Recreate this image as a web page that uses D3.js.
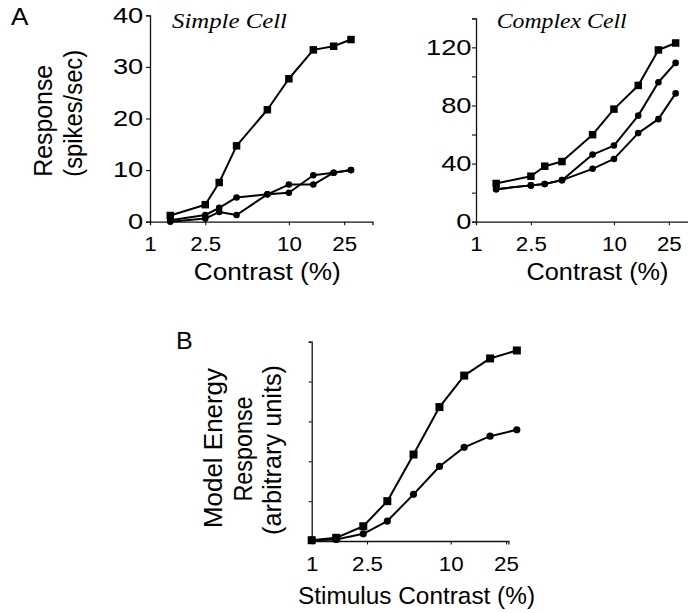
<!DOCTYPE html>
<html><head><meta charset="utf-8">
<script src="https://cdn.jsdelivr.net/npm/d3@7"></script>
<style>
html,body{margin:0;padding:0;background:#fff;}
svg{display:block;}
text{font-family:Arial,"Liberation Sans",Helvetica,sans-serif;fill:#000;}
</style></head>
<body>
<svg id="chart" width="688" height="613"></svg>
<script>
// ---------- data ----------
const contrastA = [1.4, 2.5, 3.15, 4.2, 7, 10, 15, 21, 28];
const simpleSquare  = [1.2, 3.3, 7.6, 14.7, 21.7, 27.7, 33.3, 34.0, 35.3];
const simpleCircle1 = [0.3, 1.3, 2.7, 4.7, 5.3, 5.6, 9.0, 9.5, 10.0];
const simpleCircle2 = [0.0, 0.6, 1.9, 1.3, 5.3, 7.2, 7.2, 9.5, 10.0];
const complexSquare  = [26.3, 31.3, 38.2, 41.4, 59.9, 77.5, 93.8, 118.2, 123];
const complexCircle1 = [22.4, 25, 25.9, 28.6, 46.2, 52.4, 73, 96, 109.3];
const complexCircle2 = [22.4, 25, 25.9, 28.6, 36.4, 43.2, 61, 70.6, 88.3];
const contrastB = [1, 1.5, 2.35, 3.5, 5.4, 8.3, 12.5, 19.2, 29.9];
const modelSquare = [0.02, 0.08, 0.37, 1.0, 2.17, 3.36, 4.15, 4.58, 4.78];
const modelCircle = [0.02, 0.04, 0.18, 0.5, 1.17, 1.87, 2.35, 2.63, 2.79];
const xTicks = [1, 2.5, 10, 25];
const xTickLabels = ["1", "2.5", "10", "25"];
const simpleYTicks = [0, 10, 20, 30, 40];
const complexYTicks = [0, 20, 40, 60, 80, 100, 120, 140];
const complexYLabels = [0, 40, 80, 120];
const modelYTicks = [0, 1, 2, 3, 4, 5];

const svg = d3.select("#chart");
const SX = 1.09;   // horizontal stretch of the original lettering
const SXY = 1.27;  // stretch of the y tick numerals

function addText(t, x, y, opts) {
  opts = opts || {};
  const el = svg.append("text")
    .attr("transform", `translate(${x},${y}) scale(${SX},1)`)
    .attr("text-anchor", opts.anchor || "start")
    .attr("font-size", opts.size || 24)
    .text(t);
  if (opts.len) el.attr("textLength", opts.len / SX).attr("lengthAdjust", "spacingAndGlyphs");
  if (opts.serif) el.style("font-family", "'Liberation Serif','Times New Roman',Times,serif").attr("font-style", "italic");
  return el;
}
function addVText(t, x, cy, len, size) {
  return svg.append("text")
    .attr("transform", `translate(${x},${cy}) rotate(-90) scale(1,${SX})`)
    .attr("text-anchor", "middle")
    .attr("font-size", size || 24)
    .attr("textLength", len).attr("lengthAdjust", "spacingAndGlyphs")
    .text(t);
}

function panel(cfg) {
  const g = svg.append("g");
  const x = d3.scaleLog().domain(cfg.xDomain).range(cfg.xRange);
  const y = d3.scaleLinear().domain(cfg.yDomain).range(cfg.yRange);
  const y0 = y(0);

  const xa = g.append("g").attr("transform", `translate(0,${y0})`)
    .call(d3.axisBottom(x).tickValues(xTicks).tickSizeOuter(0).tickSize(3.5).tickPadding(11.5)
      .tickFormat((d, i) => xTickLabels[i]));
  const ya = g.append("g").attr("transform", `translate(${cfg.xRange[0]},0)`)
    .call(d3.axisLeft(y).tickValues(cfg.yTicks).tickSizeOuter(0).tickSize(cfg.yTickSize || 4).tickPadding(cfg.yPad)
      .tickFormat(d => cfg.yLabels && cfg.yLabels.includes(d) ? d : ""));
  [xa, ya].forEach(a => {
    a.select(".domain").attr("stroke", "#111").attr("stroke-width", 1.3);
    a.selectAll(".tick line").attr("stroke", "#111").attr("stroke-width", 1.1);
    a.selectAll("text").attr("fill", "#000")
      .style("font-family", "Arial,'Liberation Sans',sans-serif");
  });
  xa.selectAll(".tick text").attr("font-size", 20.5).attr("transform", `scale(${SX},1)`);
  ya.selectAll(".tick text").attr("font-size", 21.5).attr("transform", `scale(${SXY},1)`);
  xa.selectAll(".tick").filter(d => d === 1).select("line").remove();

  const line = d3.line().x((d, i) => x(cfg.xs[i])).y(d => y(d));
  cfg.series.forEach(s => {
    g.append("path").datum(s.values).attr("d", line)
      .attr("fill", "none").attr("stroke", "#000").attr("stroke-width", 2).attr("stroke-linejoin", "round");
  });
  cfg.series.forEach(s => {
    if (s.shape === "square") {
      g.selectAll(null).data(s.values).enter().append("rect")
        .attr("x", (d, i) => x(cfg.xs[i]) - cfg.sq / 2).attr("y", d => y(d) - cfg.sq / 2)
        .attr("width", cfg.sq).attr("height", cfg.sq).attr("fill", "#000");
    } else {
      g.selectAll(null).data(s.values).enter().append("circle")
        .attr("cx", (d, i) => x(cfg.xs[i])).attr("cy", d => y(d)).attr("r", cfg.cr).attr("fill", "#000");
    }
  });
}

// Panel A, simple cell
panel({
  xDomain: [1, 40], xRange: [150, 372.5],
  yDomain: [0, 40], yRange: [221.7, 15.3],
  yTicks: simpleYTicks, yLabels: simpleYTicks, yPad: 1.3,
  xs: contrastA, sq: 7.5, cr: 3.3,
  series: [
    {shape: "circle", values: simpleCircle2},
    {shape: "circle", values: simpleCircle1},
    {shape: "square", values: simpleSquare}
  ]
});
// Panel A, complex cell
panel({
  xDomain: [1, 40], xRange: [476, 697],
  yDomain: [0, 140], yRange: [221.7, 18.3],
  yTicks: complexYTicks, yLabels: complexYLabels, yPad: -0.5,
  xs: contrastA, sq: 7.5, cr: 3.3,
  series: [
    {shape: "circle", values: complexCircle2},
    {shape: "circle", values: complexCircle1},
    {shape: "square", values: complexSquare}
  ]
});
// Panel B, model
panel({
  xDomain: [1, 26], xRange: [311.7, 508.4],
  yDomain: [0, 5], yRange: [541, 341.7],
  yTicks: modelYTicks, yLabels: [], yPad: 2, yTickSize: 3,
  xs: contrastB, sq: 8, cr: 3.6,
  series: [
    {shape: "circle", values: modelCircle},
    {shape: "square", values: modelSquare}
  ]
});

// Labels
addText("A", 11, 25, {size: 24});
addText("B", 176, 348.5, {size: 23});
addText("Simple Cell", 172, 28.3, {size: 20, serif: true, len: 115});
addText("Complex Cell", 496.7, 28.3, {size: 20, serif: true, len: 130});
addText("Contrast (%)", 267.3, 280, {anchor: "middle", len: 147});
addText("Contrast (%)", 597.5, 280, {anchor: "middle", len: 142});
addText("Stimulus Contrast (%)", 416.5, 603.5, {anchor: "middle", len: 237});
addVText("Response", 51.7, 120.8, 112);
addVText("(spikes/sec)", 81.5, 113.3, 127);
addVText("Model Energy", 221.7, 448, 160);
addVText("Response", 251.7, 449, 105);
addVText("(arbitrary units)", 281, 450, 170);
</script>
</body></html>
